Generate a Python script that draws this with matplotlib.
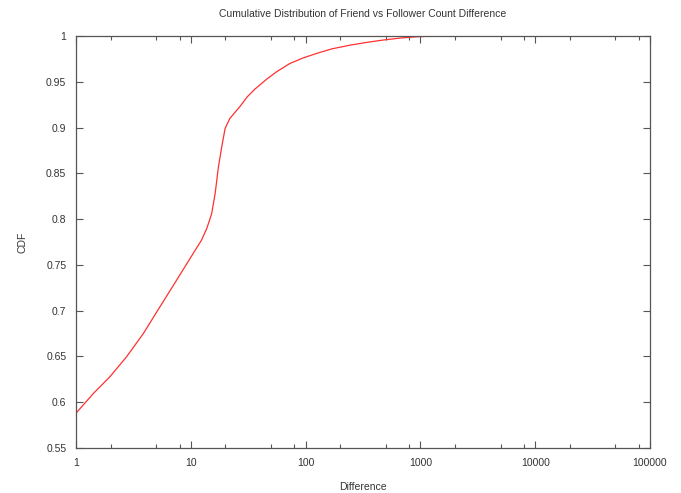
import numpy as np
import matplotlib
matplotlib.use("Agg")
import matplotlib.pyplot as plt
from matplotlib.ticker import FixedLocator, NullFormatter

# CDF of (friends - followers)
diff = [1, 1.42, 1.98, 2.76, 3.86, 5.39, 7.54, 10.5, 12.4, 13.8, 15.2, 16.3,
        17.4, 18.6, 19.9, 21.9, 26.8, 31, 36.2, 46, 56, 73, 95, 125, 170,
        244, 340, 475, 660, 929, 1387]
cdf = [0.588, 0.6097, 0.628, 0.6497, 0.675, 0.7043, 0.7335, 0.7626, 0.777,
       0.790, 0.806, 0.828, 0.857, 0.879, 0.899, 0.910, 0.923, 0.9335,
       0.942, 0.953, 0.961, 0.970, 0.976, 0.981, 0.986,
       0.990, 0.993, 0.9956, 0.9977, 0.9992, 1.0]

xticks = [1, 10, 100, 1000, 10000, 100000]
xticklabels = ["1", "10", "100", "1000", "10000", "100000"]
yticks = [0.55, 0.6, 0.65, 0.7, 0.75, 0.8, 0.85, 0.9, 0.95, 1.0]
yticklabels = ["0.55", "0.6", "0.65", "0.7", "0.75", "0.8", "0.85", "0.9", "0.95", "1"]

plt.rcParams["font.family"] = ["Liberation Sans", "DejaVu Sans"]
fig = plt.figure(figsize=(6.81, 4.93), dpi=100)
ax = fig.add_axes([76/681, 45/493, 574/681, 412/493])

ax.plot(diff, cdf, color="#ff3030", lw=0.9)

ax.set_xscale("log")
ax.set_xlim(1, 100000)
ax.set_ylim(0.55, 1.0)
ax.set_xticks(xticks)
ax.set_xticklabels(xticklabels)
minors = [m * 10**e for e in range(0, 5) for m in (2, 5, 8)]
ax.xaxis.set_minor_locator(FixedLocator(minors))
ax.xaxis.set_minor_formatter(NullFormatter())
ax.set_yticks(yticks)
ax.set_yticklabels(yticklabels)

axcol = "#555555"
for s in ax.spines.values():
    s.set_color(axcol)
    s.set_linewidth(0.9)
ax.tick_params(which="both", direction="in", top=True, right=True,
               colors=axcol, labelcolor="#333333", labelsize=7.5, width=0.8)
ax.tick_params(which="major", length=5, pad=7)
ax.tick_params(which="minor", length=3)

ax.set_title("Cumulative Distribution of Friend vs Follower Count Difference",
             fontsize=7.5, color="#333333", pad=14)
ax.set_xlabel("Difference", fontsize=7.5, color="#333333", labelpad=10)
ax.set_ylabel("CDF", fontsize=7.5, color="#333333", labelpad=13)

fig.savefig("out.png", dpi=100)
